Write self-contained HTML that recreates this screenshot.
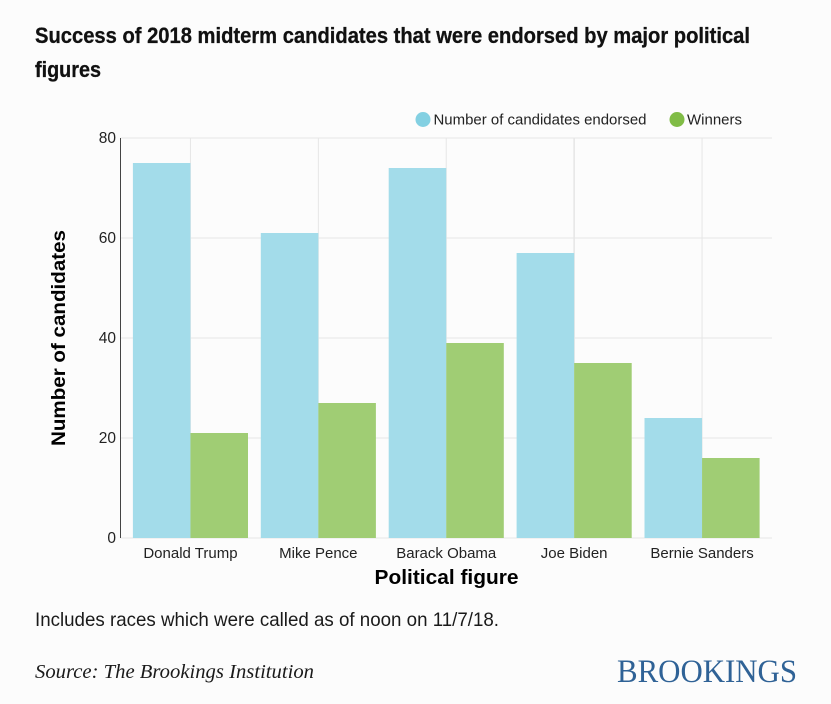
<!DOCTYPE html>
<html lang="en">
<head>
<meta charset="utf-8">
<title>Success of 2018 midterm candidates</title>
<style>
html,body{margin:0;padding:0;background:#fcfcfc;width:831px;height:704px;overflow:hidden}
svg{display:block}
text{font-family:"Liberation Sans",Arial,sans-serif}
</style>
</head>
<body>
<svg id="chart" width="831" height="704" viewBox="0 0 831 704" xmlns="http://www.w3.org/2000/svg">
  <rect width="831" height="704" fill="#fcfcfc"/>
  <g fill="#111" font-weight="700" font-size="22.5" stroke="#111" stroke-width="0.3">
    <text x="35" y="43" textLength="715" lengthAdjust="spacingAndGlyphs">Success of 2018 midterm candidates that were endorsed by major political</text>
    <text x="35" y="77" textLength="66" lengthAdjust="spacingAndGlyphs">figures</text>
  </g>
  <g id="grid"></g>
  <g id="bars"></g>
  <line x1="120.5" y1="138" x2="120.5" y2="538" stroke="#444" stroke-width="1"/>
  <g id="yticks"></g>
  <g id="xticks"></g>
  <text transform="translate(65 338) rotate(-90)" text-anchor="middle" font-size="19.5" font-weight="700" fill="#000" textLength="216" lengthAdjust="spacingAndGlyphs">Number of candidates</text>
  <text x="446.5" y="584" text-anchor="middle" font-size="20.5" font-weight="700" fill="#000" textLength="144" lengthAdjust="spacingAndGlyphs">Political figure</text>
  <g font-size="14.5" fill="#222">
    <g>
      <circle cx="423" cy="119.5" r="7.5" fill="#83d0e2"/>
      <text x="433.5" y="124.5" textLength="213" lengthAdjust="spacingAndGlyphs">Number of candidates endorsed</text>
    </g>
    <g>
      <circle cx="677" cy="119.5" r="7.5" fill="#80bc46"/>
      <text x="687" y="124.5" textLength="55" lengthAdjust="spacingAndGlyphs">Winners</text>
    </g>
  </g>
  <text x="35" y="626" font-size="19.5" fill="#1a1a1a" textLength="464" lengthAdjust="spacingAndGlyphs">Includes races which were called as of noon on 11/7/18.</text>
  <text x="35" y="678" font-size="20" font-style="italic" fill="#1a1a1a" style="font-family:'Liberation Serif',serif" textLength="279" lengthAdjust="spacingAndGlyphs">Source: The Brookings Institution</text>
  <text x="617" y="682" font-size="32.5" fill="#2f6296" style="font-family:'Liberation Serif',serif" textLength="180" lengthAdjust="spacingAndGlyphs">BROOKINGS</text>
</svg>
<script>
var categories = ["Donald Trump", "Mike Pence", "Barack Obama", "Joe Biden", "Bernie Sanders"];
var endorsed = [75, 61, 74, 57, 24];
var winners = [21, 27, 39, 35, 16];
var yTicks = [0, 20, 40, 60, 80];

var NS = "http://www.w3.org/2000/svg";
var plotLeft = 120.5, plotRight = 772, plotTop = 138, plotBottom = 538, yMax = 80;
var outerPad = 12.4, gap = 12.8;
var step = (plotRight - plotLeft - 2 * outerPad + gap) / categories.length;
var barWidth = (step - gap) / 2;

function yScale(v) { return plotBottom - (v / yMax) * (plotBottom - plotTop); }
function groupStart(i) { return plotLeft + outerPad + i * step; }
function groupCenter(i) { return groupStart(i) + barWidth; }
function make(tag, attrs, parent) {
  var el = document.createElementNS(NS, tag);
  for (var k in attrs) el.setAttribute(k, attrs[k]);
  parent.appendChild(el);
  return el;
}

var grid = document.getElementById("grid");
var bars = document.getElementById("bars");
var yTickGroup = document.getElementById("yticks");
var xTickGroup = document.getElementById("xticks");

yTicks.forEach(function (t) {
  var y = yScale(t);
  var line = make("line", {x1: plotLeft, x2: plotRight, y1: y, y2: y, stroke: "#e6e6e6", "stroke-width": 1}, grid);
  
  
  var label = make("text", {x: 116, y: y + 5, "text-anchor": "end", "font-size": 15.5, fill: "#222"}, yTickGroup);
  
  
  label.textContent = t;
});

categories.forEach(function (c, i) {
  var cx = groupCenter(i);
  var v = make("line", {x1: cx, x2: cx, y1: plotTop, y2: plotBottom, stroke: "#e6e6e6", "stroke-width": i === 3 ? 1.5 : 1}, grid);
  
  

  var a = make("rect", {x: groupStart(i), y: yScale(endorsed[i]), width: barWidth, height: plotBottom - yScale(endorsed[i]), fill: "#a3dcea"}, bars);
  
  

  var b = make("rect", {x: cx, y: yScale(winners[i]), width: barWidth, height: plotBottom - yScale(winners[i]), fill: "#a0cd74"}, bars);
  
  

  var label = make("text", {x: cx, y: 558, "text-anchor": "middle", "font-size": 15, fill: "#222"}, xTickGroup);
  
  
  label.textContent = c;
});
</script>
</body>
</html>
